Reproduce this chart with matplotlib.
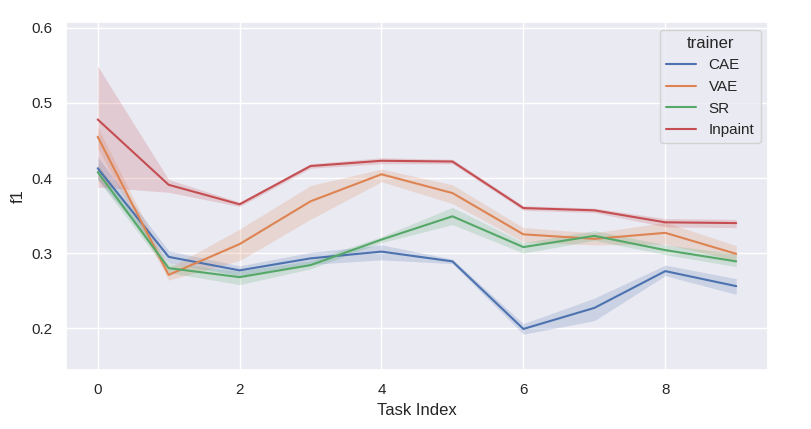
import numpy as np
import matplotlib
matplotlib.use("Agg")
import matplotlib.pyplot as plt
import seaborn as sns

# ---------------- DATA ----------------
task_index = np.arange(10)
trainers = ["CAE", "VAE", "SR", "Inpaint"]

cae_mean = [0.413, 0.295, 0.277, 0.293, 0.302, 0.289, 0.199, 0.227, 0.276, 0.256]
cae_lo   = [0.398, 0.287, 0.270, 0.285, 0.291, 0.286, 0.192, 0.210, 0.270, 0.245]
cae_hi   = [0.428, 0.303, 0.283, 0.301, 0.311, 0.292, 0.206, 0.240, 0.284, 0.266]

vae_mean = [0.455, 0.271, 0.312, 0.369, 0.405, 0.380, 0.325, 0.319, 0.327, 0.299]
vae_lo   = [0.440, 0.264, 0.290, 0.345, 0.395, 0.366, 0.315, 0.311, 0.312, 0.290]
vae_hi   = [0.468, 0.280, 0.332, 0.390, 0.412, 0.391, 0.334, 0.327, 0.341, 0.310]

sr_mean  = [0.408, 0.280, 0.268, 0.284, 0.318, 0.349, 0.308, 0.323, 0.304, 0.289]
sr_lo    = [0.398, 0.274, 0.258, 0.279, 0.314, 0.338, 0.300, 0.317, 0.298, 0.282]
sr_hi    = [0.418, 0.286, 0.276, 0.290, 0.322, 0.361, 0.314, 0.330, 0.311, 0.299]

inp_mean = [0.478, 0.391, 0.365, 0.416, 0.423, 0.422, 0.360, 0.357, 0.341, 0.340]
inp_lo   = [0.388, 0.381, 0.362, 0.413, 0.419, 0.419, 0.357, 0.354, 0.335, 0.334]
inp_hi   = [0.549, 0.398, 0.368, 0.419, 0.427, 0.425, 0.363, 0.360, 0.346, 0.345]

means = [cae_mean, vae_mean, sr_mean, inp_mean]
lows = [cae_lo, vae_lo, sr_lo, inp_lo]
highs = [cae_hi, vae_hi, sr_hi, inp_hi]

# ---------------- FIGURE ----------------
sns.set_theme(style="darkgrid")
plt.rcParams["font.family"] = ["Liberation Sans", "DejaVu Sans"]
colors = sns.color_palette("deep", 4)

fig = plt.figure(figsize=(8.12, 4.29), dpi=100)
ax = fig.add_axes([0.081, 0.137, 0.865, 0.812])

for name, m, lo, hi, c in zip(trainers, means, lows, highs, colors):
    ax.fill_between(task_index, lo, hi, color=c, alpha=0.2, linewidth=0)
    ax.plot(task_index, m, color=c, linewidth=1.5, label=name)

ax.set_xlim(-0.45, 9.45)
ax.set_ylim(0.144, 0.608)
ax.set_xticks([0, 2, 4, 6, 8])
ax.set_yticks([0.2, 0.3, 0.4, 0.5, 0.6])
ax.set_xlabel("Task Index")
ax.set_ylabel("f1")

ax.legend(title="trainer", loc="upper right")

fig.savefig("out.png", dpi=100)
